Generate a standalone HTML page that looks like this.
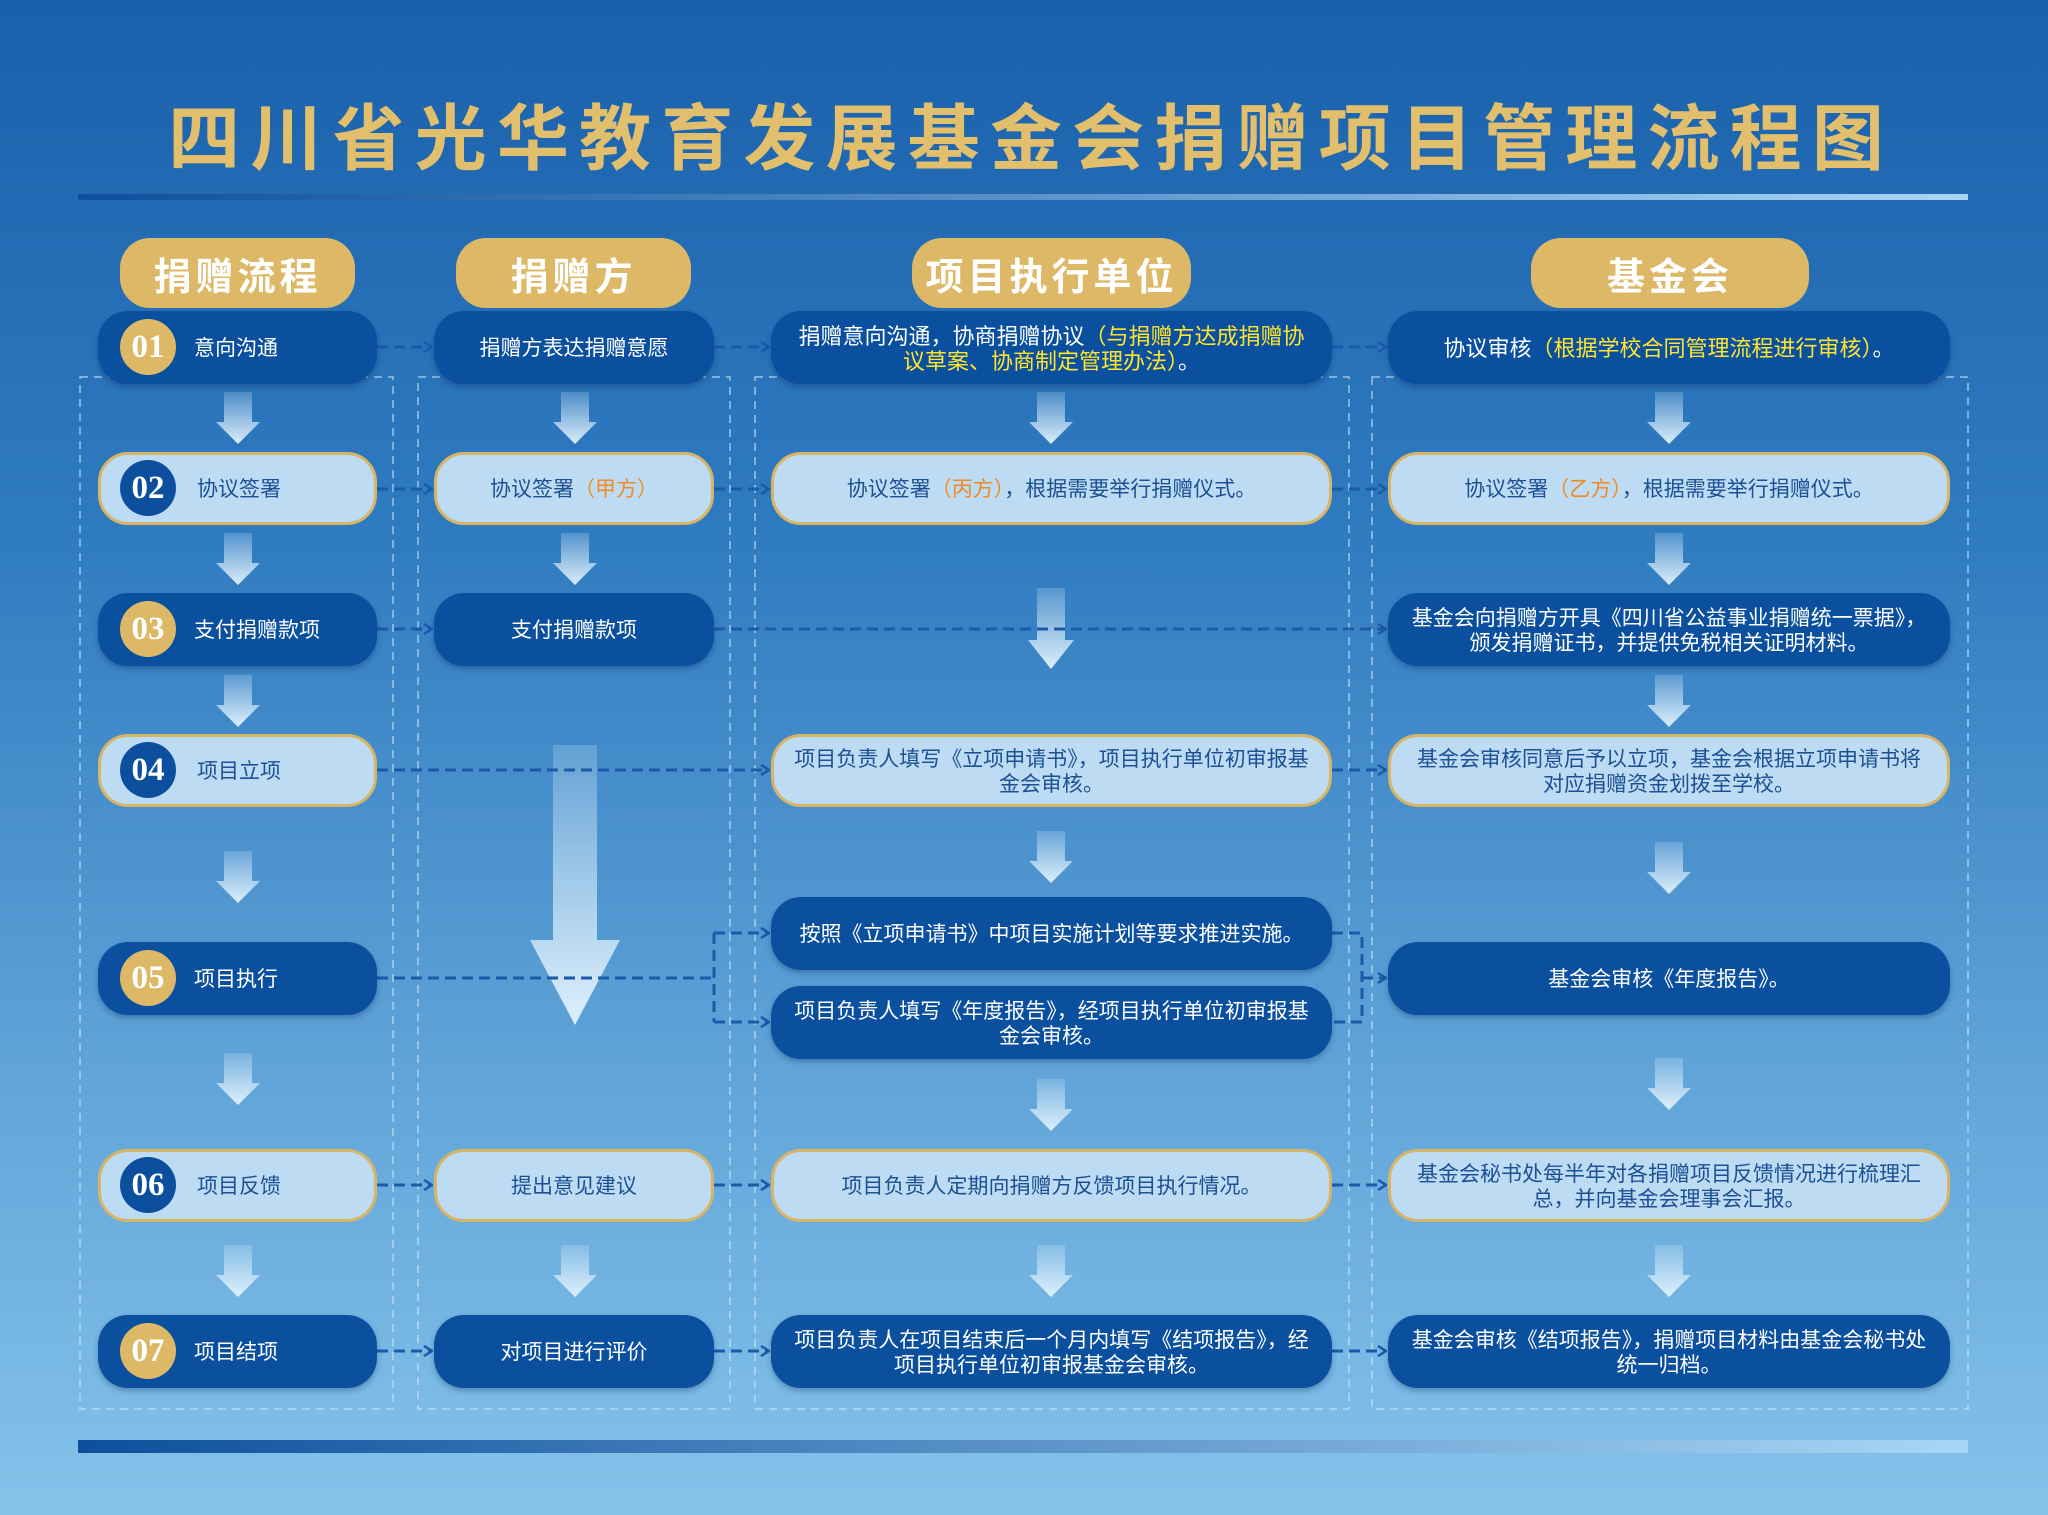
<!DOCTYPE html>
<html><head><meta charset="utf-8"><style>
*{margin:0;padding:0;box-sizing:border-box}
body{width:2048px;height:1515px;overflow:hidden;font-family:"Liberation Sans","Noto Sans CJK SC",sans-serif;}
#bg{position:absolute;left:0;top:0;width:2048px;height:1515px;background:linear-gradient(180deg,#1a60ab 0%,#2f7bc0 35%,#5fa3d8 70%,#85c3ea 100%);}
.t{position:absolute;left:163px;width:1730px;top:88px;height:90px;display:flex;font-size:72px;line-height:90px;font-weight:bold;color:#e2bf6c;font-family:"Noto Sans CJK SC",sans-serif;}
.t span{display:block;width:82.2px;text-align:center;flex:none}
.h{position:absolute;top:238px;height:70px;border-radius:30px;background:#dcb867;color:#fff;font-weight:bold;font-size:38px;display:flex;align-items:center;justify-content:center;letter-spacing:4px;font-family:"Noto Sans CJK SC",sans-serif;}
.b{position:absolute;height:73px;border-radius:30px;display:flex;align-items:center;justify-content:center;text-align:center;font-size:21px;line-height:25px;padding:0 18px;font-family:"Noto Sans CJK SC",sans-serif;}
.d{background:#0b509f;color:#fff;box-shadow:0 3px 6px rgba(0,30,80,.3)}
.l{background:#bddcf4;color:#1d4f93;border:3px solid #d8b566}
.c1{left:98px;width:279px;justify-content:flex-start;padding-left:96px}
.c2{left:434px;width:280px}
.c3{left:771px;width:561px}
.c4{left:1388px;width:562px}
.y{color:#ffe52e}.o{color:#f08a24}
.n{position:absolute;left:22px;top:8px;width:56px;height:56px;border-radius:50%;display:flex;align-items:center;justify-content:center;font-family:"Liberation Serif",serif;font-weight:bold;font-size:33px;color:#fff}
.l .n{left:19px;top:5px;background:#0b4f9e}
.d .n{background:#dcb867}
</style></head><body>
<div id="bg"></div>
<svg width="2048" height="1515" style="position:absolute;left:0;top:0">
<defs>
<linearGradient id="ul" x1="0" x2="1"><stop offset="0" stop-color="#0d4f9c"/><stop offset="1" stop-color="#a9d6f5"/></linearGradient>
<linearGradient id="ag" x1="0" y1="0" x2="0" y2="1"><stop offset="0" stop-color="#dff0fc" stop-opacity=".2"/><stop offset="1" stop-color="#e4f3fd" stop-opacity=".95"/></linearGradient>
<marker id="m" markerWidth="10" markerHeight="12" refX="9" refY="6" orient="auto" markerUnits="userSpaceOnUse"><path d="M1,1 L9,6 L1,11" fill="none" stroke="#1a5aa8" stroke-width="2.5"/></marker>
</defs>
<rect x="78" y="194" width="1890" height="6" fill="url(#ul)"/>
<rect x="78" y="1440" width="1890" height="13" fill="url(#ul)"/>
<g fill="none" stroke="#cfe6f8" stroke-opacity=".7" stroke-width="1.5" stroke-dasharray="8 6">
<rect x="80" y="377" width="313" height="1032"/>
<rect x="418" y="377" width="312" height="1032"/>
<rect x="755" y="377" width="594" height="1032"/>
<rect x="1372" y="377" width="596" height="1032"/>
</g>
<g fill="url(#ag)">
<path id="a" d="M-14,0 L14,0 L14,30 L22,30 L0,52 L-22,30 L-14,30 Z" transform="translate(238,392)"/>
<use href="#a" x="0" y="141"/><use href="#a" x="0" y="283"/><use href="#a" x="0" y="459"/><use href="#a" x="0" y="661"/><use href="#a" x="0" y="853"/>
<use href="#a" x="337" y="0"/><use href="#a" x="337" y="141"/><use href="#a" x="337" y="853"/>
<use href="#a" x="813" y="0"/><use href="#a" x="813" y="439"/><use href="#a" x="813" y="687"/><use href="#a" x="813" y="853"/>
<use href="#a" x="1431" y="0"/><use href="#a" x="1431" y="141"/><use href="#a" x="1431" y="283"/><use href="#a" x="1431" y="450"/><use href="#a" x="1431" y="666"/><use href="#a" x="1431" y="853"/>
<path d="M1037,588 L1065,588 L1065,640 L1074,640 L1051,669 L1028,640 L1037,640 Z"/>
<path d="M553,745 L597,745 L597,940 L620,940 L575,1025 L530,940 L553,940 Z"/>
</g>
<g fill="none" stroke="#1a5aa8" stroke-width="3" stroke-dasharray="11 6">
<path d="M377,347 H432" marker-end="url(#m)"/><path d="M714,347 H769" marker-end="url(#m)"/><path d="M1332,347 H1386" marker-end="url(#m)"/>
<path d="M377,489 H432" marker-end="url(#m)"/><path d="M714,489 H769" marker-end="url(#m)"/><path d="M1332,489 H1386" marker-end="url(#m)"/>
<path d="M377,629 H432" marker-end="url(#m)"/><path d="M714,629 H1386" marker-end="url(#m)"/>
<path d="M377,770 H769" marker-end="url(#m)"/><path d="M1332,770 H1386" marker-end="url(#m)"/>
<path d="M377,978 H714"/><path d="M714,933 V1022"/><path d="M714,933 H769" marker-end="url(#m)"/><path d="M714,1022 H769" marker-end="url(#m)"/>
<path d="M1332,933 H1362 V1022 H1332"/><path d="M1362,978 H1386" marker-end="url(#m)"/>
<path d="M377,1185 H432" marker-end="url(#m)"/><path d="M714,1185 H769" marker-end="url(#m)"/><path d="M1332,1185 H1386" marker-end="url(#m)"/>
<path d="M377,1351 H432" marker-end="url(#m)"/><path d="M714,1351 H769" marker-end="url(#m)"/><path d="M1332,1351 H1386" marker-end="url(#m)"/>
</g>
</svg>
<div class="t"><span>四</span><span>川</span><span>省</span><span>光</span><span>华</span><span>教</span><span>育</span><span>发</span><span>展</span><span>基</span><span>金</span><span>会</span><span>捐</span><span>赠</span><span>项</span><span>目</span><span>管</span><span>理</span><span>流</span><span>程</span><span>图</span></div>
<div class="h" style="left:120px;width:235px">捐赠流程</div>
<div class="h" style="left:456px;width:235px">捐赠方</div>
<div class="h" style="left:912px;width:279px">项目执行单位</div>
<div class="h" style="left:1531px;width:278px">基金会</div>

<div class="b d c1" style="top:311px"><div class="n">01</div><div>意向沟通</div></div>
<div class="b d c2" style="top:311px"><div>捐赠方表达捐赠意愿</div></div>
<div class="b d c3" style="top:311px;font-size:22px"><div>捐赠意向沟通，协商捐赠协议<span class="y">（与捐赠方达成捐赠协议草案、协商制定管理办法）</span>。</div></div>
<div class="b d c4" style="top:311px;font-size:22px"><div>协议审核<span class="y">（根据学校合同管理流程进行审核）</span>。</div></div>

<div class="b l c1" style="top:452px"><div class="n">02</div><div>协议签署</div></div>
<div class="b l c2" style="top:452px"><div>协议签署<span class="o">（甲方）</span></div></div>
<div class="b l c3" style="top:452px"><div>协议签署<span class="o">（丙方）</span>，根据需要举行捐赠仪式。</div></div>
<div class="b l c4" style="top:452px"><div>协议签署<span class="o">（乙方）</span>，根据需要举行捐赠仪式。</div></div>

<div class="b d c1" style="top:593px"><div class="n">03</div><div>支付捐赠款项</div></div>
<div class="b d c2" style="top:593px"><div>支付捐赠款项</div></div>
<div class="b d c4" style="top:593px"><div>基金会向捐赠方开具《四川省公益事业捐赠统一票据》，颁发捐赠证书，并提供免税相关证明材料。</div></div>

<div class="b l c1" style="top:734px"><div class="n">04</div><div>项目立项</div></div>
<div class="b l c3" style="top:734px"><div>项目负责人填写《立项申请书》，项目执行单位初审报基金会审核。</div></div>
<div class="b l c4" style="top:734px"><div>基金会审核同意后予以立项，基金会根据立项申请书将对应捐赠资金划拨至学校。</div></div>

<div class="b d c1" style="top:942px"><div class="n">05</div><div>项目执行</div></div>
<div class="b d c3" style="top:897px"><div>按照《立项申请书》中项目实施计划等要求推进实施。</div></div>
<div class="b d c3" style="top:986px"><div>项目负责人填写《年度报告》，经项目执行单位初审报基金会审核。</div></div>
<div class="b d c4" style="top:942px"><div>基金会审核《年度报告》。</div></div>

<div class="b l c1" style="top:1149px"><div class="n">06</div><div>项目反馈</div></div>
<div class="b l c2" style="top:1149px"><div>提出意见建议</div></div>
<div class="b l c3" style="top:1149px"><div>项目负责人定期向捐赠方反馈项目执行情况。</div></div>
<div class="b l c4" style="top:1149px"><div>基金会秘书处每半年对各捐赠项目反馈情况进行梳理汇总，并向基金会理事会汇报。</div></div>

<div class="b d c1" style="top:1315px"><div class="n">07</div><div>项目结项</div></div>
<div class="b d c2" style="top:1315px"><div>对项目进行评价</div></div>
<div class="b d c3" style="top:1315px"><div>项目负责人在项目结束后一个月内填写《结项报告》，经项目执行单位初审报基金会审核。</div></div>
<div class="b d c4" style="top:1315px"><div>基金会审核《结项报告》，捐赠项目材料由基金会秘书处统一归档。</div></div>
</body></html>
